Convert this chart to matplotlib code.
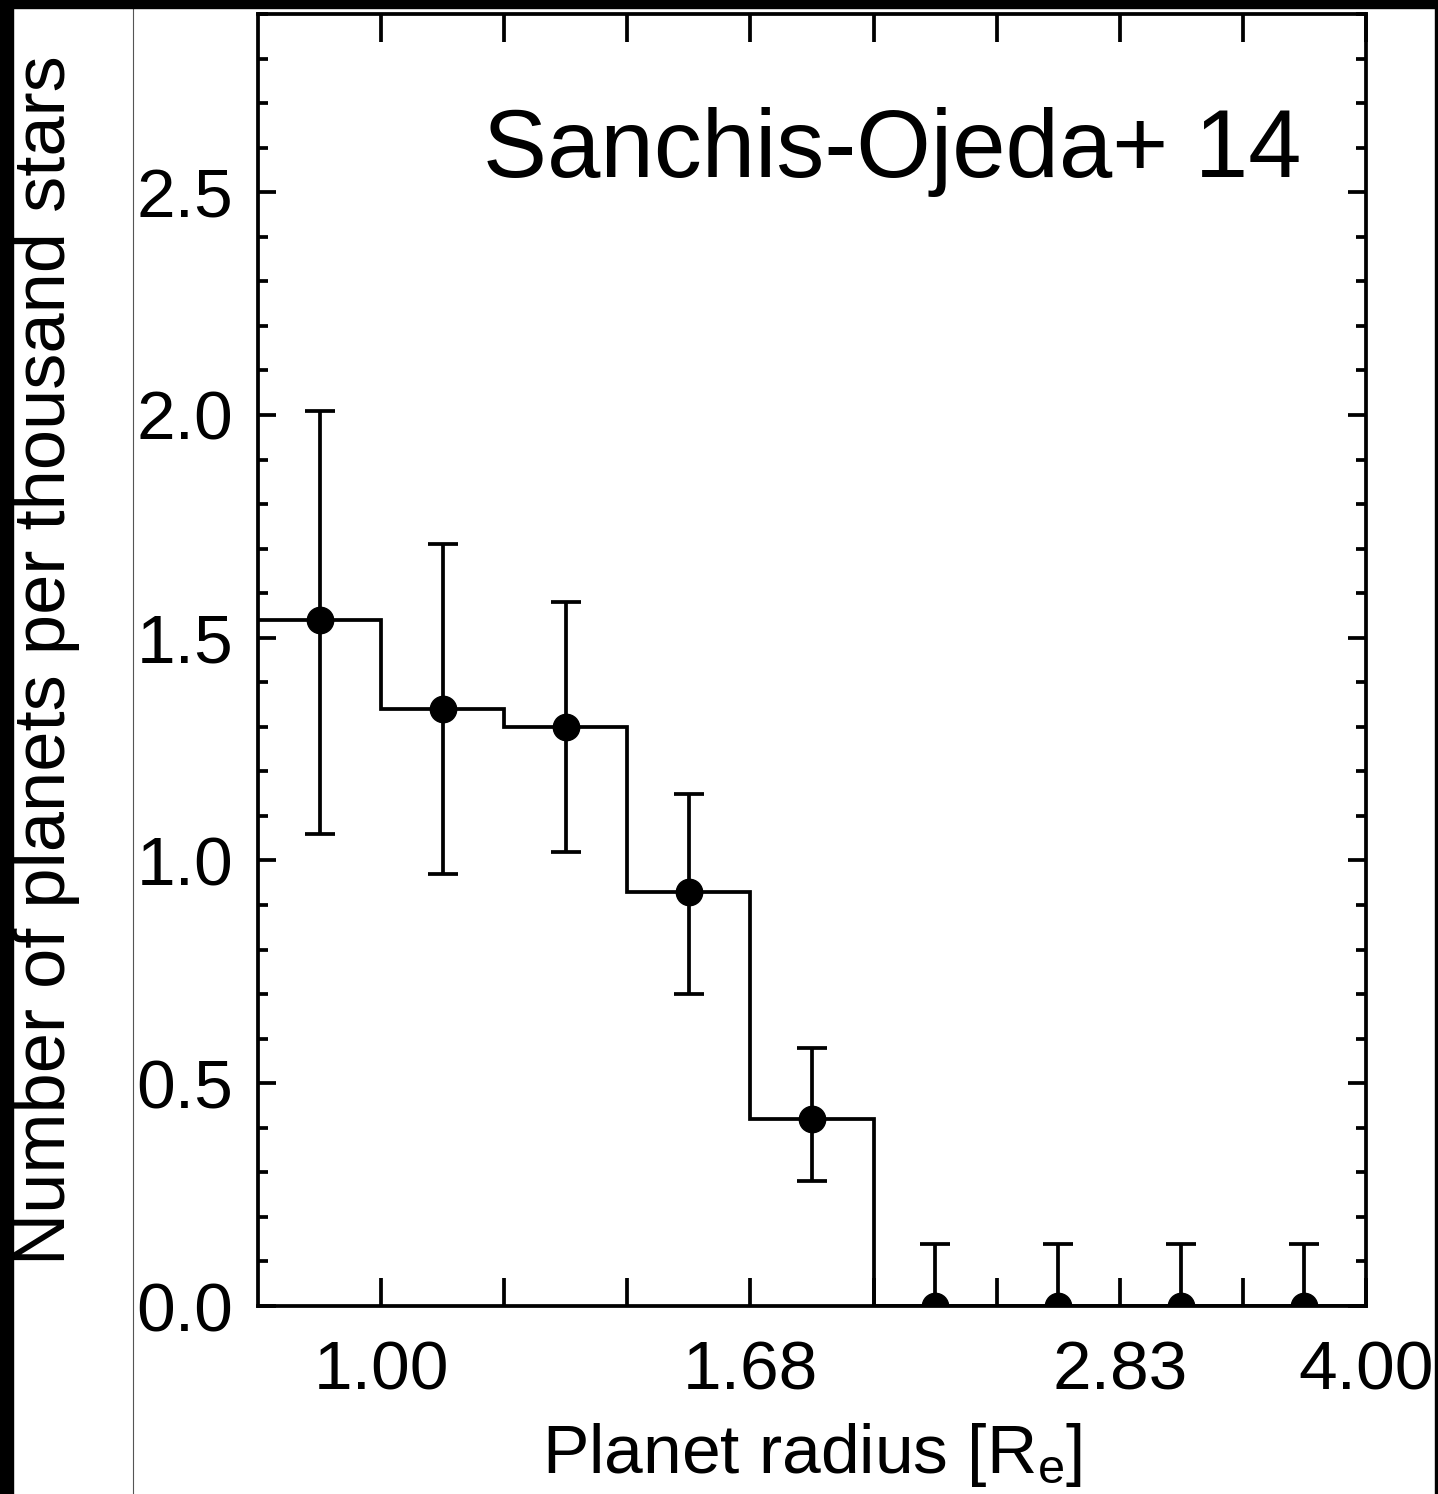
import numpy as np
import matplotlib
matplotlib.use("Agg")
import matplotlib.pyplot as plt
from matplotlib.patches import Rectangle
from matplotlib.lines import Line2D
from matplotlib.ticker import FixedLocator, MultipleLocator, NullLocator

plt.rcParams["font.family"] = ["Liberation Sans", "DejaVu Sans"]
plt.rcParams["mathtext.fontset"] = "custom"
plt.rcParams["mathtext.rm"] = "Liberation Sans"
plt.rcParams["mathtext.it"] = "Liberation Sans"

# radius bins (R_earth), quarter-octave wide
edges = [0.841, 1.000, 1.189, 1.414, 1.682, 2.000, 2.378, 2.828, 3.364, 4.000]
tick_labels = ["1.00", "", "", "1.68", "", "", "2.83", "", "4.00"]

# planets per thousand stars, with 1-sigma bounds
rate = [1.54, 1.34, 1.30, 0.93, 0.42, 0.0, 0.0, 0.0, 0.0]
upper = [2.01, 1.71, 1.58, 1.15, 0.58, 0.14, 0.14, 0.14, 0.14]
lower = [1.06, 0.97, 1.02, 0.70, 0.28, 0.0, 0.0, 0.0, 0.0]

W, H = 1438, 1494
fig = plt.figure(figsize=(W / 100, H / 100), dpi=100, facecolor="white")
ax = fig.add_axes([258 / W, (H - 1306) / H, (1366 - 258) / W, (1306 - 14) / H])

edges_a = np.array(edges)
rate_a = np.array(rate)
centers = np.sqrt(edges_a[:-1] * edges_a[1:])
yerr = [rate_a - np.array(lower), np.array(upper) - rate_a]

lw = 2.7
ax.stairs(rate, edges, baseline=None, color="black", linewidth=lw, zorder=2)
ax.errorbar(centers, rate, yerr=yerr, fmt="o", color="black", ms=19,
            elinewidth=lw, capsize=11, capthick=lw, zorder=3)

ax.set_xscale("log", base=2)
ax.set_xlim(edges[0], edges[-1])
ax.set_ylim(0, 2.9)
ax.xaxis.set_major_locator(FixedLocator(edges[1:]))
ax.xaxis.set_minor_locator(NullLocator())
ax.set_xticklabels(tick_labels)
ax.yaxis.set_major_locator(MultipleLocator(0.5))
ax.yaxis.set_minor_locator(MultipleLocator(0.1))
ax.yaxis.set_major_formatter(matplotlib.ticker.FormatStrFormatter("%.1f"))

ax.tick_params(axis="x", which="major", direction="in", length=20, width=lw,
               top=True, labelsize=50, pad=24)
ax.tick_params(axis="y", which="major", direction="in", length=13, width=lw,
               right=True, labelsize=50, pad=18)
ax.tick_params(axis="y", which="minor", direction="in", length=7, width=lw,
               right=True)
for s in ax.spines.values():
    s.set_linewidth(lw)

ax.text(0.942, 0.874, "Sanchis-Ojeda+ 14", transform=ax.transAxes,
        ha="right", va="baseline", fontsize=69)

fig.text(47 / W, 0.5 + (H / 2 - 660) / H, "Number of planets per thousand stars",
         rotation=90, ha="center", va="center", fontsize=52)
fig.text(812 / W, 21 / H, r"Planet radius [R$_\mathrm{e}$]",
         ha="center", va="baseline", fontsize=50)

# frame around the panel
fig.add_artist(Line2D([133 / W, 133 / W], [0, 1], color="#555555",
                      linewidth=0.8, transform=fig.transFigure, zorder=5))
for x0, y0, w, h in [(0, 0, 13, H), (0, H - 8, W, 8), (1435, 0, W - 1435, H)]:
    fig.add_artist(Rectangle((x0 / W, y0 / H), w / W, h / H, color="black",
                             transform=fig.transFigure, zorder=10))

fig.savefig("out.png", dpi=100)
